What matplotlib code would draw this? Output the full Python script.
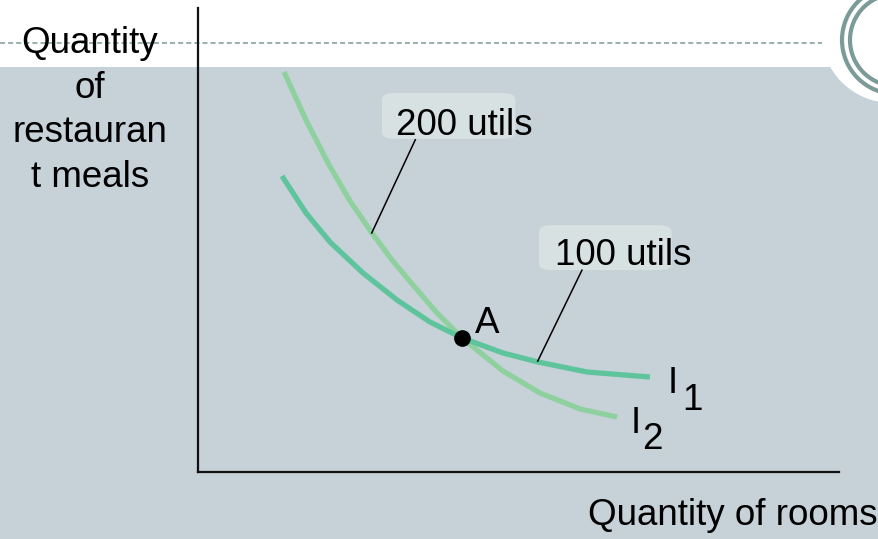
import matplotlib
matplotlib.use("Agg")
import matplotlib.pyplot as plt
import matplotlib.patches as patches
from matplotlib.transforms import IdentityTransform
from matplotlib.lines import Line2D

plt.rcParams["font.family"] = ["Liberation Sans", "DejaVu Sans"]

# indifference curves (rooms, meals)
i1_rooms = [1.310, 1.685, 2.059, 2.574, 3.105, 3.619, 4.119, 4.758, 5.304, 6.069, 7.051]
i1_meals = [6.379, 5.582, 4.957, 4.289, 3.707, 3.233, 2.888, 2.565, 2.371, 2.155, 2.047]
i2_rooms = [1.342, 1.685, 2.028, 2.371, 2.715, 3.027, 3.354, 3.729, 4.119, 4.758, 5.335, 5.959, 6.537]
i2_meals = [8.621, 7.586, 6.659, 5.841, 5.151, 4.569, 4.030, 3.427, 2.888, 2.177, 1.703, 1.358, 1.185]
point_a = (4.119, 2.888)

y_label_lines = ["Quantity", "of", "restauran", "t meals"]
x_label = "Quantity of rooms"

BG = "#c6d1d8"
BOX = "#d8e1e1"
RING = "#7b9b99"
C_I1 = "#5ec49c"
C_I2 = "#8fd19e"
FS = 26.5

W, H = 879, 539
fig = plt.figure(figsize=(W / 100, H / 100), dpi=100, facecolor=BG)

# slide decoration: white top band, dashed rule, circles top right
fig.patches.append(patches.Rectangle((0, H - 67), W, 67, transform=IdentityTransform(),
                                     facecolor="white", edgecolor="none", zorder=0))
fig.patches.append(patches.Circle((892, H - 32), 71, transform=IdentityTransform(),
                                  facecolor="white", edgecolor="none", zorder=0))
for r in (54, 46):
    fig.patches.append(patches.Circle((896, H - 40), r, transform=IdentityTransform(),
                                      facecolor="none", edgecolor=RING, lw=3, zorder=1))
fig.lines.append(Line2D([0, 822], [H - 43, H - 43], transform=IdentityTransform(),
                        color=RING, lw=1.1, dashes=(3.3, 2.0), zorder=1))

ax = fig.add_axes([198 / W, (H - 472) / H, 641 / W, 464 / H])
ax.set_zorder(3)
ax.patch.set_visible(False)
ax.set_xlim(0, 10)
ax.set_ylim(0, 10)
for s in ("top", "right"):
    ax.spines[s].set_visible(False)
for s in ("left", "bottom"):
    ax.spines[s].set_linewidth(1.6)
    ax.spines[s].set_color("#111111")
ax.set_xticks([])
ax.set_yticks([])

ax.plot(i2_rooms, i2_meals, color=C_I2, lw=3.8, solid_capstyle="butt", solid_joinstyle="round", zorder=3)
ax.plot(i1_rooms, i1_meals, color=C_I1, lw=3.8, solid_capstyle="butt", solid_joinstyle="round", zorder=4)
ax.plot(*point_a, "o", color="black", ms=11, zorder=6)

# callout boxes and leaders
ax.add_patch(patches.FancyBboxPatch((2.87, 7.18), 2.08, 0.99, boxstyle="round,pad=0,rounding_size=0.2",
                                    facecolor=BOX, edgecolor="none", mutation_aspect=0.7, zorder=2))
ax.add_patch(patches.FancyBboxPatch((5.32, 4.35), 2.07, 0.97, boxstyle="round,pad=0,rounding_size=0.2",
                                    facecolor=BOX, edgecolor="none", mutation_aspect=0.7, zorder=2))
ax.plot([3.39, 2.71], [7.16, 5.15], color="black", lw=1.1, zorder=5)
ax.plot([5.99, 5.30], [4.35, 2.39], color="black", lw=1.1, zorder=5)

ax.text(3.09, 7.26, "200 utils", fontsize=FS, ha="left", va="baseline", zorder=7)
ax.text(5.57, 4.46, "100 utils", fontsize=FS, ha="left", va="baseline", zorder=7)
ax.text(4.32, 3.00, "A", fontsize=FS, ha="left", va="baseline", zorder=7)
ax.text(7.33, 1.70, "I", fontsize=FS, ha="left", va="baseline")
ax.text(7.55, 1.34, "1", fontsize=FS, ha="left", va="baseline")
ax.text(6.75, 0.84, "I", fontsize=FS, ha="left", va="baseline")
ax.text(6.93, 0.50, "2", fontsize=FS, ha="left", va="baseline")

# axis titles
for i, line in enumerate(y_label_lines):
    fig.text(90 / W, 1 - (53 + 44.7 * i) / H, line, fontsize=FS, ha="center", va="baseline", zorder=8)
fig.text(588 / W, 1 - 525 / H, x_label, fontsize=FS, ha="left", va="baseline")

fig.savefig("out.png", dpi=100, facecolor=BG)
